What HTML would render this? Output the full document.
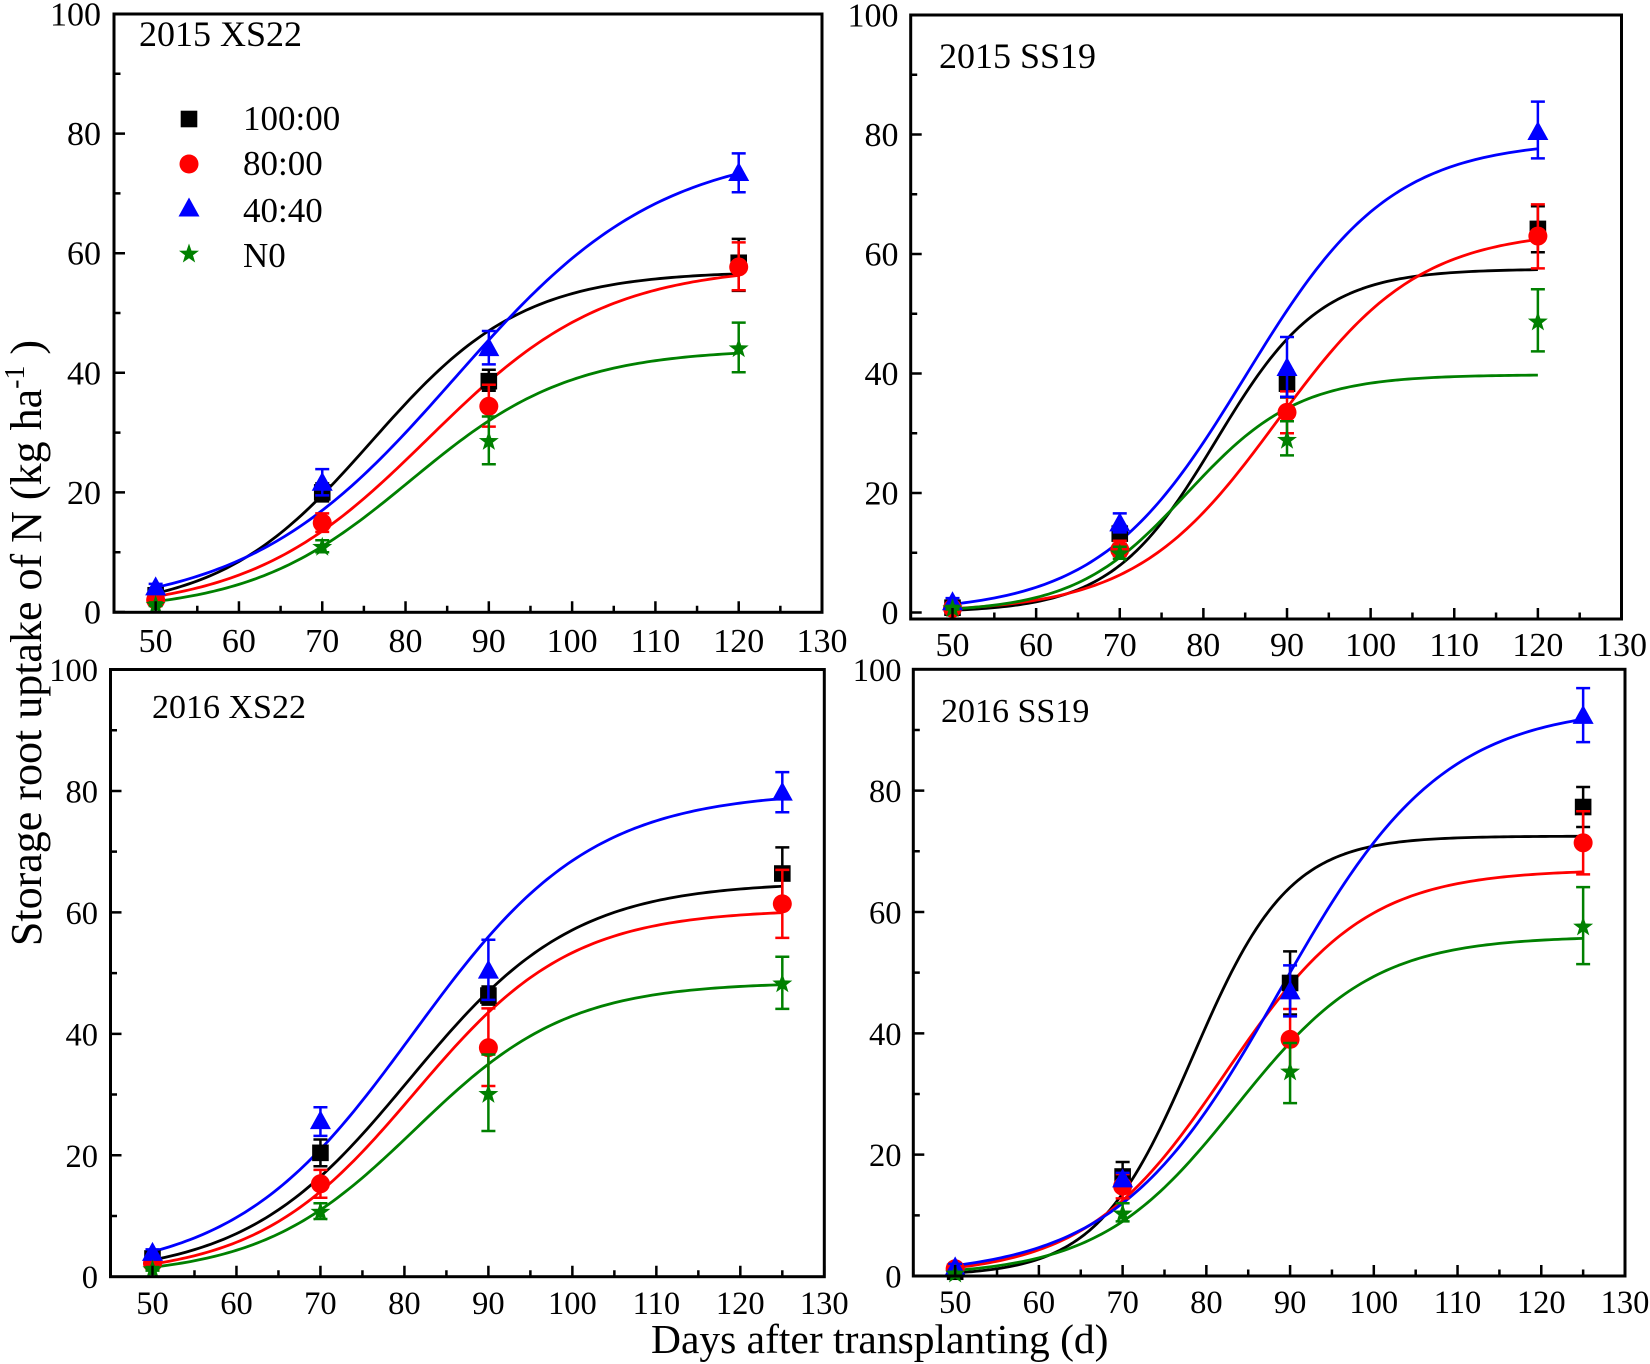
<!DOCTYPE html>
<html>
<head>
<meta charset="utf-8">
<style>
html,body{margin:0;padding:0;background:#fff;}
svg{display:block;}
text{font-family:"Liberation Serif","Times New Roman",serif;fill:#000;}
</style>
</head>
<body>
<svg id="c" xmlns="http://www.w3.org/2000/svg" width="1650" height="1364" viewBox="0 0 1650 1364">
<rect width="1650" height="1364" fill="#fff"/>
<g id="curves" fill="none" stroke-width="2.8" stroke-linejoin="round"></g>
<g id="data"></g>
<g id="ticks" stroke="#000" stroke-width="2.5" fill="none"></g>
<g fill="none" stroke="#000" stroke-width="3">
<rect x="114" y="14" width="708" height="598.3"/>
<rect x="910.7" y="15" width="710.8" height="604"/>
<rect x="110.5" y="669.5" width="713.8" height="607.2"/>
<rect x="913.3" y="669.3" width="711.7" height="606.7"/>
</g>

<!-- Titles -->
<text x="139" y="46" font-size="36">2015 XS22</text>
<text x="939" y="68" font-size="36">2015 SS19</text>
<text x="152" y="718" font-size="34">2016 XS22</text>
<text x="941" y="722" font-size="34">2016 SS19</text>

<!-- Legend -->
<rect x="180.7" y="110.7" width="16.6" height="16.6" fill="#000"/>
<circle cx="189" cy="164" r="9.5" fill="#ff0000"/>
<polygon points="189,197.5 178.5,216.5 199.5,216.5" fill="#0000ff"/>
<polygon points="189,243.5 191.47,250.6 198.99,250.76 192.99,255.3 195.17,262.49 189,258.2 182.83,262.49 185.01,255.3 179.01,250.76 186.53,250.6" fill="#008000"/>
<text x="243" y="130" font-size="35">100:00</text>
<text x="243" y="175" font-size="35">80:00</text>
<text x="243" y="222" font-size="35">40:40</text>
<text x="243" y="267" font-size="35">N0</text>

<!-- TL y tick labels -->
<g font-size="34" text-anchor="end">
<text x="101" y="623.5">0</text>
<text x="101" y="503.9">20</text>
<text x="101" y="384.3">40</text>
<text x="101" y="264.7">60</text>
<text x="101" y="145.1">80</text>
<text x="101" y="25.5">100</text>
</g>
<!-- TL x tick labels -->
<g font-size="34" text-anchor="middle">
<text x="155.6" y="652">50</text>
<text x="238.9" y="652">60</text>
<text x="322.2" y="652">70</text>
<text x="405.5" y="652">80</text>
<text x="488.8" y="652">90</text>
<text x="572.1" y="652">100</text>
<text x="655.4" y="652">110</text>
<text x="738.7" y="652">120</text>
<text x="822" y="652">130</text>
</g>

<!-- TR y tick labels -->
<g font-size="34" text-anchor="end">
<text x="898.5" y="624">0</text>
<text x="898.5" y="504.5">20</text>
<text x="898.5" y="385">40</text>
<text x="898.5" y="265.5">60</text>
<text x="898.5" y="146">80</text>
<text x="898.5" y="26.5">100</text>
</g>
<!-- TR x tick labels -->
<g font-size="34" text-anchor="middle">
<text x="952.5" y="656">50</text>
<text x="1036.1" y="656">60</text>
<text x="1119.7" y="656">70</text>
<text x="1203.3" y="656">80</text>
<text x="1287" y="656">90</text>
<text x="1370.6" y="656">100</text>
<text x="1454.2" y="656">110</text>
<text x="1537.9" y="656">120</text>
<text x="1621.5" y="656">130</text>
</g>

<!-- BL y tick labels -->
<g font-size="32.5" text-anchor="end">
<text x="98" y="1288.2">0</text>
<text x="98" y="1166.8">20</text>
<text x="98" y="1045.3">40</text>
<text x="98" y="923.9">60</text>
<text x="98" y="802.4">80</text>
<text x="98" y="681">100</text>
</g>
<!-- BL x tick labels -->
<g font-size="32.5" text-anchor="middle">
<text x="152.5" y="1314">50</text>
<text x="236.5" y="1314">60</text>
<text x="320.4" y="1314">70</text>
<text x="404.4" y="1314">80</text>
<text x="488.4" y="1314">90</text>
<text x="572.4" y="1314">100</text>
<text x="656.4" y="1314">110</text>
<text x="740.3" y="1314">120</text>
<text x="824.3" y="1314">130</text>
</g>

<!-- BR y tick labels -->
<g font-size="32.5" text-anchor="end">
<text x="901.5" y="1287.5">0</text>
<text x="901.5" y="1166.2">20</text>
<text x="901.5" y="1044.8">40</text>
<text x="901.5" y="923.5">60</text>
<text x="901.5" y="802.1">80</text>
<text x="901.5" y="680.8">100</text>
</g>
<!-- BR x tick labels -->
<g font-size="32.5" text-anchor="middle">
<text x="955.2" y="1313">50</text>
<text x="1038.9" y="1313">60</text>
<text x="1122.6" y="1313">70</text>
<text x="1206.4" y="1313">80</text>
<text x="1290.1" y="1313">90</text>
<text x="1373.8" y="1313">100</text>
<text x="1457.5" y="1313">110</text>
<text x="1541.3" y="1313">120</text>
<text x="1625" y="1313">130</text>
</g>

<!-- Axis titles -->
<text x="651" y="1353" font-size="41.5">Days after transplanting (d)</text>
<text x="41" y="643" font-size="44" text-anchor="middle" transform="rotate(-90 41 643)">Storage root uptake of N (kg ha<tspan font-size="28" dy="-17">-1</tspan><tspan dy="17"> )</tspan></text>
</svg>

<script>
(function(){
var NS='http://www.w3.org/2000/svg';
function el(tag,attrs,parent){var e=document.createElementNS(NS,tag);for(var k in attrs)e.setAttribute(k,attrs[k]);parent.appendChild(e);return e;}
var col=['#000000','#ff0000','#0000ff','#008000'];
var P=[
 {L:114,R:822,T:14,B:612.3,y0:612,y100:14,xe:120,
  c:[[57,.110,75.9],[58,.0937,82.7],[78,.0807,85.84],[44,.104,80.6]],
  d:[[[50,2.8,2.3,3.3],[70,20,18.5,21.5],[90,38.6,37,40.5],[120,58.4,53.7,62.4]],
     [[50,2,1.6,2.4],[70,14.9,13.4,16.5],[90,34.4,31,38],[120,57.7,53.8,61.8]],
     [[50,4.2,3.7,4.7],[70,21.7,19.5,23.9],[90,44.2,41.4,47],[120,73.5,70.2,76.7]],
     [[50,1.3,1,1.6],[70,11,10,12],[90,28.7,24.7,32.7],[120,44.2,40.1,48.4]]]},
 {L:910.7,R:1621.5,T:15,B:619,y0:612.5,y100:15,xe:120,
  c:[[57.5,.16,81.5],[64,.118,88.8],[79,.115,85],[39.8,.15,78]],
  d:[[[50,0.8,0.5,1.1],[70,13.2,11.5,14.5],[90,38.3,36,40.5],[120,64.2,60.3,68]],
     [[50,0.7,0.4,1],[70,10.5,9.5,12],[90,33.5,30,37],[120,63,57.6,68.3]],
     [[50,1.8,1.2,2.4],[70,15,13.4,16.6],[90,41,36.1,46.1],[120,80.5,76,85.5]],
     [[50,0.8,0.5,1.1],[70,10,9,11],[90,29,26.3,32],[120,48.8,43.7,54.1]]]},
 {L:110.5,R:824.3,T:669.5,B:1276.7,y0:1276.7,y100:669.5,xe:125,
  c:[[65,.1019,80.6],[60.5,.107,81.2],[80,.094,81],[48.5,.109,81.25]],
  d:[[[50,3,2.5,3.5],[70,20.4,18.2,22.6],[90,46.3,44.8,47.8],[125,66.4,62.2,70.7]],
     [[50,2.2,1.8,2.6],[70,15.3,13,17.6],[90,37.7,31.4,44.2],[125,61.4,55.8,67]],
     [[50,4,3.5,4.5],[70,25.7,23.2,27.9],[90,50.5,45.6,55.5],[125,79.8,76.5,83.1]],
     [[50,1.3,1,1.6],[70,10.8,9.5,12.1],[90,30.2,24,36.6],[125,48.4,44.1,52.7]]]},
 {L:913.3,R:1625,T:669.3,B:1276,y0:1276,y100:669.3,xe:125,
  c:[[72.5,.1747,78.4],[67,.12,82.3],[94,.1025,88.75],[56,.122,83.55]],
  d:[[[50,0.7,0.4,1],[70,16.4,14,18.8],[90,48.3,43.1,53.5],[125,77.3,74,80.6]],
     [[50,1.2,0.8,1.6],[70,14.8,12.8,16.8],[90,39,34,44],[125,71.4,66.2,76.6]],
     [[50,1.5,1,2],[70,16,15,17],[90,47,42.8,51.2],[125,92.4,88,96.9]],
     [[50,0.5,0.3,0.7],[70,10.4,9,12],[90,33.8,28.5,38.4],[125,57.7,51.4,64.1]]]}
];
function X(p,x){return p.L+(x-45)/85*(p.R-p.L);}
function Y(p,y){return p.y0+(p.y100-p.y0)*y/100;}
var cg=document.getElementById('curves'),dg=document.getElementById('data'),tg=document.getElementById('ticks');
var td='';
P.forEach(function(p){
  for(var v=0;v<=100;v+=10){var y=Y(p,v);if(y>p.B+0.5||y<p.T-0.5)continue;var l=(v%20==0)?11:6.5;td+='M'+p.L+' '+y.toFixed(2)+'h'+l;}
  for(var x=45;x<=130;x+=5){var px=X(p,x);var l2=(x%10==0)?11:6.5;td+='M'+px.toFixed(2)+' '+p.B+'v'+(-l2);}
  for(var i=0;i<4;i++){
    var c=p.c[i],pts=[];
    for(var x2=50;x2<=p.xe+0.001;x2+=0.5){var yv=c[0]/(1+Math.exp(-c[1]*(x2-c[2])));pts.push(X(p,x2).toFixed(2)+','+Y(p,yv).toFixed(2));}
    el('polyline',{points:pts.join(' '),stroke:col[i]},cg);
  }
  for(var s=0;s<4;s++){
    var g=el('g',{},dg);
    p.d[s].forEach(function(pt){
      var cx=X(p,pt[0]),cy=Y(p,pt[1]),hi=Y(p,pt[3]),lo=Y(p,pt[2]);
      el('path',{d:'M'+cx+' '+hi+'V'+lo+'M'+(cx-7)+' '+hi+'h14M'+(cx-7)+' '+lo+'h14',stroke:col[s],'stroke-width':2.5,fill:'none'},g);
      if(s==0){el('rect',{x:cx-8.3,y:cy-8.3,width:16.6,height:16.6,fill:col[s]},g);}
      else if(s==1){el('circle',{cx:cx,cy:cy,r:9.5,fill:col[s]},g);}
      else if(s==2){el('polygon',{points:cx+','+(cy-10.5)+' '+(cx-10.5)+','+(cy+8.5)+' '+(cx+10.5)+','+(cy+8.5),fill:col[s]},g);}
      else{
        var sp=[];for(var k=0;k<10;k++){var a=(-90+k*36)*Math.PI/180,r=(k%2)?4.2:10.5;sp.push((cx+r*Math.cos(a)).toFixed(2)+','+(cy+1+r*Math.sin(a)).toFixed(2));}
        el('polygon',{points:sp.join(' '),fill:col[s]},g);
      }
    });
  }
});
el('path',{d:td},tg);
})();
</script>
</body>
</html>
